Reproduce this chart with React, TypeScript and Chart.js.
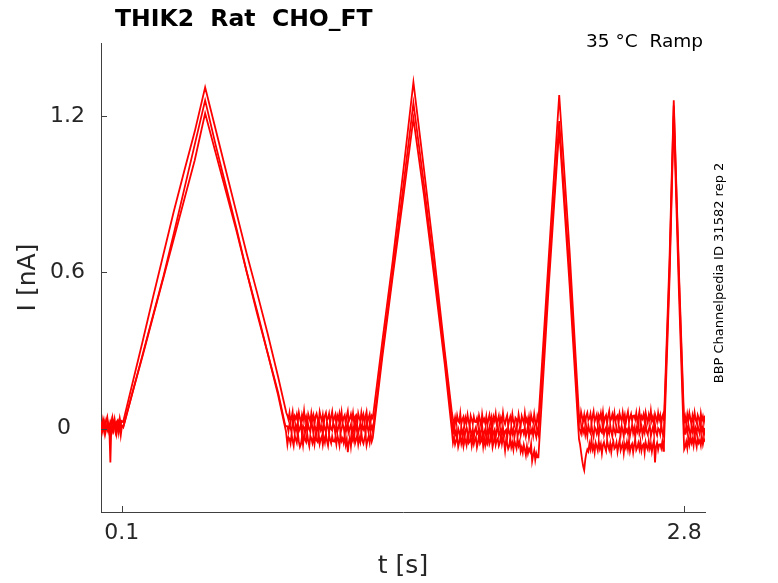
import React, { useEffect, useRef } from "react";
import { Chart, registerables } from "chart.js";
Chart.register(...registerables);

const FONT = "'DejaVu Sans', sans-serif";
const STEP = 0.005;
const baseStarts = [0, 0.895, 1.69, 2.3, 2.805];
const xTickValues = [0.1, 2.8];
const yTickValues = [0, 0.6, 1.2];

// ---------- Trace A (tallest peaks) ----------
const base0A = [0.025, 0.008, 0.038, 0.022, 0.0, 0.03, 0.045, 0.015, 0.005, 0.028, 0.02, 0.042, 0.01, 0.034, -0.005, 0.026, 0.032, 0.012, 0.04, 0.017, 0.029];
const ramp1A = [[0.106, 0.025], [0.15, 0.17], [0.2, 0.335], [0.25, 0.505], [0.3, 0.67], [0.35, 0.835], [0.4, 0.99], [0.45, 1.14], [0.5, 1.31], [0.55, 1.15], [0.6, 0.99], [0.65, 0.83], [0.7, 0.67], [0.75, 0.52], [0.8, 0.365], [0.85, 0.2], [0.89, 0.06]];
const base1A = [0.05, 0.035, 0.06, 0.025, 0.043, 0.065, 0.02, 0.048, 0.038, 0.055, 0.028, 0.062, 0.04, 0.022, 0.052, 0.032, 0.068, 0.03, 0.045, 0.018, 0.056, 0.042, 0.026, 0.06, 0.034, 0.051, 0.015, 0.047, 0.058, 0.037, 0.024, 0.064, 0.044, 0.029, 0.053, 0.02, 0.049, 0.061, 0.033, 0.039, 0.057, 0.021, 0.046, 0.066, 0.027, 0.041, 0.054, 0.016, 0.05, 0.036, 0.059, 0.031, 0.063, 0.023, 0.043, 0.052, 0.019, 0.048, 0.067, 0.028, 0.038, 0.055, 0.032, 0.06, 0.025, 0.045, 0.051, 0.017, 0.058, 0.04, 0.03, 0.062, 0.034, 0.053, 0.022, 0.047, 0.065, 0.026, 0.042, 0.056, 0.029, 0.049];
const ramp2A = [[1.305, 0.04], [1.35, 0.33], [1.4, 0.64], [1.45, 0.98], [1.5, 1.33], [1.55, 1.0], [1.6, 0.66], [1.65, 0.3], [1.685, 0.06]];
const base2A = [0.037, 0.02, 0.043, 0.015, 0.05, 0.03, 0.024, 0.058, 0.017, 0.035, 0.045, 0.013, 0.041, 0.022, 0.053, 0.028, 0.01, 0.049, 0.033, 0.019, 0.046, 0.026, 0.025, 0.04, 0.015, 0.05, 0.032, 0.01, 0.055, 0.027, 0.037, 0.02, 0.047, 0.013, 0.035, 0.053, 0.023, 0.043, 0.007, 0.045, 0.03, 0.057, 0.019, 0.033, 0.049, 0.015, 0.041, 0.024, 0.06, 0.028, 0.017, 0.038, 0.051, 0.011, 0.031, 0.046, 0.022, 0.055, 0.026, 0.014, 0.042, 0.036, 0.018, 0.054, 0.029, 0.009, 0.048, 0.034, 0.021, 0.059, 0.025, 0.039, 0.016, 0.044, 0.012, 0.052, 0.032, 0.023, 0.056, 0.027, 0.008, 0.047];
const ramp3A = [[2.1, 0.03], [2.15, 0.66], [2.2, 1.28], [2.25, 0.68], [2.295, 0.05]];
const base3A = [0.024, 0.064, 0.044, 0.029, 0.053, 0.02, 0.049, 0.061, 0.033, 0.039, 0.057, 0.021, 0.046, 0.066, 0.027, 0.041, 0.054, 0.016, 0.05, 0.036, 0.059, 0.031, 0.063, 0.023, 0.043, 0.052, 0.019, 0.048, 0.067, 0.028, 0.038, 0.055, 0.032, 0.06, 0.025, 0.045, 0.051, 0.017, 0.058, 0.04, 0.03, 0.062, 0.034, 0.053, 0.022, 0.047, 0.065, 0.026, 0.042, 0.056, 0.029, 0.049, 0.05, 0.035, 0.06, 0.025, 0.043, 0.065, 0.02, 0.048, 0.038, 0.055, 0.028, 0.062, 0.04, 0.022, 0.052, 0.032, 0.068, 0.03, 0.045, 0.018, 0.056, 0.042, 0.026, 0.06, 0.034, 0.051, 0.015, 0.047, 0.058];
const ramp4A = [[2.703, 0.03], [2.73, 0.66], [2.75, 1.26], [2.775, 0.6], [2.8, 0.02]];
const base4A = [0.045, 0.02, 0.055, 0.03, 0.06, 0.038, 0.015, 0.05, 0.028, 0.062, 0.035, 0.022, 0.052, 0.04, 0.018, 0.058, 0.03, 0.047, 0.025, 0.05];

// ---------- Trace B (middle) ----------
const base0B = [-0.003, 0.02, 0.008, -0.013, 0.027, 0.005, -0.005, 0.017, 0.001, -0.13, 0.023, -0.007, 0.011, 0.03, -0.01, 0.007, 0.015, -0.015, 0.019, -0.001, 0.013];
const ramp1B = [[0.107, 0.005], [0.15, 0.135], [0.2, 0.285], [0.25, 0.435], [0.3, 0.585], [0.35, 0.75], [0.4, 0.92], [0.45, 1.09], [0.5, 1.26], [0.55, 1.09], [0.6, 0.93], [0.65, 0.77], [0.7, 0.6], [0.75, 0.44], [0.8, 0.29], [0.85, 0.14], [0.885, 0.01]];
const base1B = [0.009, -0.011, 0.016, 0.002, -0.014, 0.025, 0.007, -0.018, 0.013, -0.006, 0.022, -0.01, 0.0, 0.018, -0.023, 0.011, 0.005, -0.015, 0.02, -0.008, 0.015, -0.002, -0.012, 0.027, 0.008, -0.021, 0.012, 0.003, -0.017, 0.023, -0.009, 0.019, -0.004, 0.01, -0.024, 0.014, 0.001, -0.013, 0.026, 0.006, -0.019, 0.017, -0.001, -0.007, 0.021, 0.009, -0.02, 0.013, -0.011, 0.004, 0.024, -0.016, -0.003, 0.018, 0.007, -0.025, 0.011, -0.006, 0.02, -0.014, 0.002, 0.016, -0.022, 0.005, -0.01, 0.028, -0.008, 0.012, -0.018, 0.0, 0.022, -0.012, 0.015, -0.002, 0.008, -0.02, 0.025, 0.003, -0.015, 0.02, -0.005, 0.01];
const ramp2B = [[1.305, -0.01], [1.35, 0.29], [1.4, 0.6], [1.45, 0.92], [1.5, 1.25], [1.55, 0.94], [1.6, 0.61], [1.65, 0.28], [1.685, 0.03]];
const base2B = [-0.023, 0.013, -0.025, -0.01, -0.037, 0.001, -0.013, -0.029, 0.005, -0.021, -0.004, -0.04, -0.008, 0.003, -0.018, -0.031, 0.009, -0.011, -0.026, -0.002, -0.035, -0.006, 0.006, -0.022, -0.016, 0.002, -0.034, -0.009, 0.011, -0.028, -0.014, -0.001, -0.039, -0.005, -0.019, 0.004, -0.024, 0.008, -0.032, -0.012, -0.003, -0.036, -0.007, 0.012, -0.027, -0.017, 0.0, -0.023, 0.005, -0.03, -0.01, -0.004, -0.038, 0.003, -0.015, -0.025, 0.007, -0.021, -0.002, -0.033, -0.008, 0.01, -0.029, -0.013, 0.001, -0.026, -0.006, -0.005, -0.02, 0.005, -0.03, -0.012, 0.01, -0.035, -0.007, -0.017, 0.0, -0.027, 0.007, -0.015, -0.033, -0.003];
const ramp3B = [[2.1, -0.02], [2.15, 0.6], [2.2, 1.18], [2.25, 0.6], [2.295, 0.0]];
const base3B = [-0.006, -0.019, 0.019, -0.015, -0.001, -0.024, 0.004, -0.028, 0.012, -0.008, -0.017, 0.016, -0.013, -0.032, 0.007, -0.003, -0.02, 0.003, -0.025, 0.01, -0.01, -0.016, 0.018, -0.023, -0.005, 0.005, -0.027, 0.001, -0.018, 0.013, -0.012, -0.03, 0.009, -0.007, -0.021, 0.006, -0.014, -0.015, 0.0, -0.025, 0.01, -0.008, -0.03, 0.015, -0.013, -0.003, -0.02, 0.007, -0.027, -0.005, 0.013, -0.017, 0.003, -0.033, 0.005, -0.01, 0.017, -0.021, -0.007, 0.009, -0.025, 0.001, -0.016, 0.02, -0.012, -0.023, -0.002, 0.011, -0.029, -0.009, 0.006, -0.018, 0.015, -0.014, -0.026, 0.002, -0.004, -0.022, 0.014, -0.011, -0.031];
const ramp4B = [[2.703, 0.0], [2.73, 0.62], [2.75, 1.24], [2.775, 0.58], [2.8, -0.02]];
const base4B = [-0.02, 0.01, -0.015, 0.018, -0.008, -0.025, 0.005, -0.012, 0.02, -0.03, 0.0, -0.018, 0.012, -0.006, -0.022, 0.015, -0.01, 0.008, -0.025, 0.003];

// ---------- Trace C (lowest) ----------
const base0C = [0.012, -0.015, 0.005, 0.02, -0.022, -0.003, 0.016, -0.01, 0.008, -0.018, 0.025, 0.0, -0.012, 0.01, 0.018, -0.02, 0.004, -0.008, 0.014, -0.025, 0.006];
const ramp1C = [[0.108, 0.01], [0.15, 0.135], [0.2, 0.28], [0.25, 0.43], [0.3, 0.58], [0.35, 0.73], [0.4, 0.88], [0.45, 1.03], [0.5, 1.21], [0.55, 1.06], [0.6, 0.91], [0.65, 0.76], [0.7, 0.6], [0.75, 0.45], [0.8, 0.29], [0.85, 0.13], [0.888, -0.01]];
const base1C = [-0.061, -0.033, -0.039, -0.057, -0.021, -0.046, -0.066, -0.027, -0.041, -0.054, -0.016, -0.05, -0.07, -0.059, -0.031, -0.063, -0.023, -0.043, -0.052, -0.019, -0.048, -0.067, -0.028, -0.038, -0.055, -0.032, -0.06, -0.025, -0.045, -0.051, -0.017, -0.058, -0.04, -0.03, -0.062, -0.034, -0.053, -0.022, -0.047, -0.065, -0.026, -0.042, -0.056, -0.029, -0.049, -0.05, -0.035, -0.06, -0.025, -0.043, -0.065, -0.02, -0.048, -0.038, -0.055, -0.028, -0.062, -0.04, -0.09, -0.052, -0.032, -0.068, -0.03, -0.045, -0.018, -0.056, -0.042, -0.026, -0.06, -0.034, -0.051, -0.015, -0.047, -0.058, -0.037, -0.024, -0.064, -0.044, -0.029, -0.053, -0.02, -0.049];
const ramp2C = [[1.305, -0.035], [1.35, 0.27], [1.4, 0.58], [1.45, 0.88], [1.5, 1.19], [1.55, 0.9], [1.6, 0.58], [1.65, 0.25], [1.685, -0.01]];
const base2C = [-0.054, -0.034, -0.061, -0.047, -0.031, -0.07, -0.052, -0.027, -0.058, -0.039, -0.067, -0.035, -0.045, -0.063, -0.022, -0.056, -0.05, -0.03, -0.065, -0.037, -0.06, -0.043, -0.033, -0.072, -0.053, -0.024, -0.057, -0.048, -0.028, -0.068, -0.036, -0.064, -0.041, -0.055, -0.021, -0.059, -0.046, -0.032, -0.071, -0.051, -0.026, -0.062, -0.044, -0.038, -0.066, -0.054, -0.025, -0.058, -0.034, -0.049, -0.084, -0.044, -0.057, -0.078, -0.067, -0.035, -0.071, -0.054, -0.08, -0.046, -0.062, -0.076, -0.038, -0.065, -0.05, -0.088, -0.072, -0.092, -0.062, -0.08, -0.102, -0.068, -0.095, -0.078, -0.088, -0.06, -0.125, -0.103, -0.085, -0.12, -0.095, -0.11];
const ramp3C = [[2.1, -0.11], [2.15, 0.55], [2.2, 1.15], [2.25, 0.55], [2.295, -0.04]];
const base3C = [-0.06, -0.09, -0.12, -0.145, -0.16, -0.12, -0.095, -0.08, -0.088, -0.058, -0.078, -0.042, -0.08, -0.065, -0.092, -0.054, -0.068, -0.084, -0.05, -0.076, -0.059, -0.095, -0.063, -0.052, -0.073, -0.086, -0.046, -0.066, -0.081, -0.057, -0.09, -0.061, -0.049, -0.077, -0.071, -0.053, -0.089, -0.064, -0.044, -0.083, -0.069, -0.056, -0.094, -0.06, -0.074, -0.051, -0.079, -0.047, -0.087, -0.067, -0.058, -0.091, -0.062, -0.043, -0.082, -0.072, -0.055, -0.078, -0.05, -0.085, -0.065, -0.059, -0.093, -0.052, -0.07, -0.08, -0.048, -0.076, -0.057, -0.088, -0.063, -0.045, -0.13, -0.068, -0.054, -0.081, -0.061, -0.06, -0.075, -0.05, -0.085];
const ramp4C = [[2.703, -0.06], [2.73, 0.58], [2.75, 1.2], [2.775, 0.52], [2.8, -0.08]];
const base4C = [-0.07, -0.05, -0.075, -0.035, -0.06, -0.03, -0.055, -0.04, -0.065, -0.025, -0.05, -0.07, -0.035, -0.055, -0.045, -0.065, -0.03, -0.06, -0.04, -0.05];

function buildTrace(bases: number[][], ramps: number[][][]) {
  const pts: { x: number; y: number }[] = [];
  bases.forEach((seg, s) => {
    seg.forEach((v, i) => pts.push({ x: baseStarts[s] + i * STEP, y: v }));
    if (ramps[s]) ramps[s].forEach(([x, y]) => pts.push({ x, y }));
  });
  return pts;
}

const traces = [
  buildTrace([base0A, base1A, base2A, base3A, base4A], [ramp1A, ramp2A, ramp3A, ramp4A]),
  buildTrace([base0B, base1B, base2B, base3B, base4B], [ramp1B, ramp2B, ramp3B, ramp4B]),
  buildTrace([base0C, base1C, base2C, base3C, base4C], [ramp1C, ramp2C, ramp3C, ramp4C]),
];

const decorPlugin = {
  id: "decor",
  afterDraw(chart: any) {
    const ctx = chart.ctx;
    const area = chart.chartArea;
    const xs = chart.scales.x;
    const ys = chart.scales.y;
    ctx.save();
    ctx.strokeStyle = "#404040";
    ctx.lineWidth = 1;
    xTickValues.forEach((v) => {
      const px = Math.round(xs.getPixelForValue(v)) + 0.5;
      ctx.beginPath();
      ctx.moveTo(px, area.bottom);
      ctx.lineTo(px, area.bottom - 6);
      ctx.stroke();
    });
    yTickValues.forEach((v) => {
      const py = Math.round(ys.getPixelForValue(v)) + 0.5;
      ctx.beginPath();
      ctx.moveTo(area.left, py);
      ctx.lineTo(area.left + 6, py);
      ctx.stroke();
    });
    ctx.fillStyle = "#000";
    ctx.font = `bold 23.5px ${FONT}`;
    ctx.textAlign = "left";
    ctx.textBaseline = "alphabetic";
    ctx.fillText("THIK2  Rat  CHO_FT", 115, 26);
    ctx.font = `18.5px ${FONT}`;
    ctx.textAlign = "right";
    ctx.fillText("35 °C  Ramp", 703, 47);
    ctx.translate(720, 273);
    ctx.rotate(-Math.PI / 2);
    ctx.font = `13px ${FONT}`;
    ctx.textAlign = "center";
    ctx.textBaseline = "middle";
    ctx.fillText("BBP Channelpedia ID 31582 rep 2", 0, 0);
    ctx.restore();
  },
};

export default function App() {
  const ref = useRef<HTMLCanvasElement | null>(null);
  useEffect(() => {
    if (!ref.current) return;
    const chart = new Chart(ref.current, {
      type: "scatter",
      data: {
        datasets: traces.map((t) => ({
          data: t,
          showLine: true,
          borderColor: "#ff0000",
          backgroundColor: "#ff0000",
          borderWidth: 1.8,
          pointRadius: 0,
          tension: 0,
        })),
      },
      options: {
        responsive: false,
        animation: false,
        devicePixelRatio: 1,
        layout: { padding: { top: 43, right: 73, left: 0, bottom: 0 } },
        plugins: { legend: { display: false }, tooltip: { enabled: false }, title: { display: false } },
        scales: {
          x: {
            type: "linear",
            min: 0,
            max: 2.9,
            afterFit: (s: any) => { s.height = 71; },
            afterBuildTicks: (s: any) => { s.ticks = xTickValues.map((v) => ({ value: v })); },
            grid: { display: false, drawTicks: false },
            border: { display: true, color: "#404040", width: 1 },
            ticks: {
              padding: 8,
              color: "#262626",
              font: { family: FONT, size: 22 },
              callback: (v: any) => Number(v).toFixed(1),
              maxRotation: 0,
            },
            title: { display: true, text: "t [s]", color: "#262626", font: { family: FONT, size: 25 }, padding: { top: 0, bottom: 2 } },
          },
          y: {
            type: "linear",
            min: -0.32,
            max: 1.48,
            afterFit: (s: any) => { s.width = 101; },
            afterBuildTicks: (s: any) => { s.ticks = yTickValues.map((v) => ({ value: v })); },
            grid: { display: false, drawTicks: false },
            border: { display: true, color: "#404040", width: 1 },
            ticks: {
              padding: 16,
              color: "#262626",
              font: { family: FONT, size: 22 },
              callback: (v: any) => (Number(v) === 0 ? "0  " : Number(v).toFixed(1)),
            },
            title: { display: true, text: "I [nA]", color: "#262626", font: { family: FONT, size: 25 }, padding: { top: 13, bottom: 0 } },
          },
        },
      },
      plugins: [decorPlugin],
    } as any);
    return () => chart.destroy();
  }, []);
  return (
    <div style={{ position: "fixed", left: 0, top: 0, width: 778, height: 583, background: "#fff" }}>
      <canvas ref={ref} width={778} height={583} style={{ display: "block" }} />
    </div>
  );
}
